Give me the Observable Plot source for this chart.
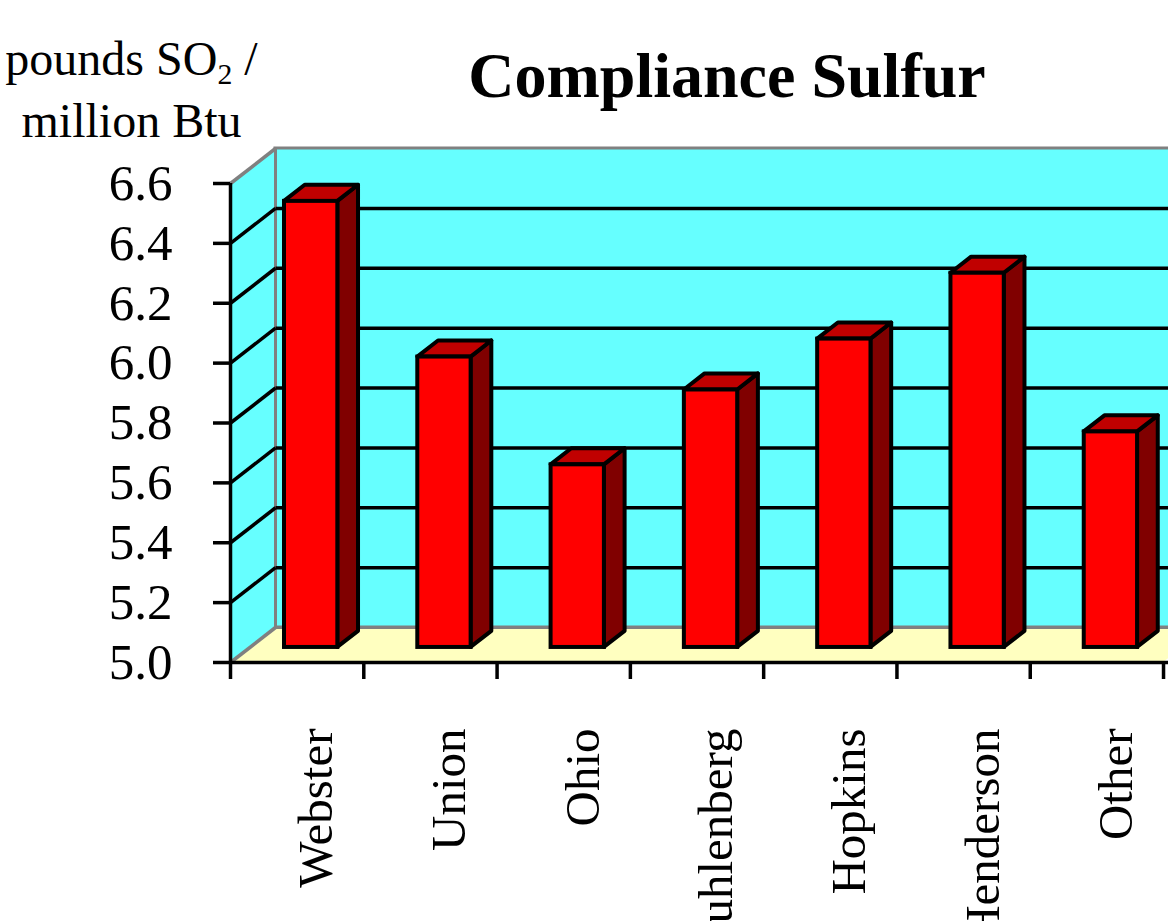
<!DOCTYPE html>
<html>
<head>
<meta charset="utf-8">
<script src="https://cdn.jsdelivr.net/npm/d3@7"></script>
<script src="https://cdn.jsdelivr.net/npm/@observablehq/plot@0.6"></script>
<style>
  html, body { margin: 0; padding: 0; background: #fff; overflow: hidden; width: 1168px; height: 921px; }
  #header { position: relative; width: 1168px; height: 140px; font-family: "Liberation Serif", "Times New Roman", serif; color: #000; }
  #ylabel { position: absolute; left: 0; top: 31px; width: 263px; text-align: center; font-size: 48px; line-height: 56px; white-space: nowrap; }
  #ylabel .sub { font-size: 0.62em; position: relative; top: 0.3em; }
  #title { position: absolute; left: 727px; top: 44px; transform: translateX(-50%); font-size: 64px; font-weight: bold; line-height: 1; white-space: nowrap; }
  #chart svg { display: block; overflow: visible; }
</style>
</head>
<body>
<div id="header">
  <div id="ylabel">pounds SO<span class="sub">2</span> /<br>million Btu</div>
  <div id="title"></div>
</div>
<div id="chart"></div>
<script>
// ---- data ----
const categories = ["Webster", "Union", "Ohio", "Muhlenberg", "Hopkins", "Henderson", "Other"];
const values = [6.49, 5.97, 5.61, 5.86, 6.03, 6.25, 5.72];
const yTicks = [5.0, 5.2, 5.4, 5.6, 5.8, 6.0, 6.2, 6.4, 6.6];
const titleText = "Compliance Sulfur";

document.getElementById("title").textContent = titleText;

// ---- 3D geometry (in data units) ----
const N = categories.length;
const Y0 = yTicks[0], YMAX = yTicks[yTicks.length - 1];
const DX = 0.3376, DY = 0.1169;     // full depth of the box
const F1 = 0.43, F2 = 0.89;         // front / back depth of the bars
const BL = 0.26, BR = 0.66;         // bar left / right within a category slot

const CYAN = "#66FFFF", FLOOR = "#FFFFC0", GRAY = "#808080";
const RED = "#FF0000", TOP = "#C00000", SIDE = "#800000";
const FONT = "Liberation Serif, Times New Roman, serif";

const bars = categories.map((c, i) => ({c, i, v: values[i]}));
const sideData = bars.flatMap(b => [F1, F2].map(f => ({c: b.c, x: b.i + BR + f * DX, y1: Y0 + f * DY, y2: b.v + f * DY})));
const topData = bars.flatMap(b => [F1, F2].map(f => ({c: b.c, y: b.v + f * DY, x1: b.i + BL + f * DX, x2: b.i + BR + f * DX})));
const sideWall = [{x: 0, y1: Y0, y2: YMAX}, {x: DX, y1: Y0 + DY, y2: YMAX + DY}];
const floor = [{y: Y0, x1: 0, x2: N}, {y: Y0 + DY, x1: DX, x2: N + DX}];
const inner = yTicks.slice(1, -1);

const chart = Plot.plot({
  width: 1168,
  height: 781,
  marginLeft: 230,
  marginRight: 0,
  marginTop: 43,
  marginBottom: 259,
  style: {fontFamily: FONT, background: "white", overflow: "visible"},
  x: {type: "linear", domain: [0, 938 / 133.29]},
  y: {type: "linear", domain: [Y0, YMAX]},
  marks: [
    // walls & floor
    Plot.rect([0], {x1: DX, x2: N + DX, y1: Y0 + DY, y2: YMAX + DY, fill: CYAN, stroke: GRAY, strokeWidth: 3}),
    Plot.areaY(sideWall, {x: "x", y1: "y1", y2: "y2", fill: CYAN}),
    Plot.areaX(floor, {y: "y", x1: "x1", x2: "x2", fill: FLOOR}),
    Plot.link([Y0, YMAX], {x1: 0, y1: d => d, x2: DX, y2: d => d + DY, stroke: GRAY, strokeWidth: 3.5}),
    Plot.ruleX([DX], {y1: Y0 + DY, y2: YMAX + DY, stroke: GRAY, strokeWidth: 3}),
    Plot.ruleY([Y0 + DY], {x1: DX, x2: N + DX, stroke: GRAY, strokeWidth: 3}),
    // gridlines
    Plot.link(inner, {x1: 0, y1: d => d, x2: DX, y2: d => d + DY, stroke: "black", strokeWidth: 3.5}),
    Plot.link(inner, {x1: DX, y1: d => d + DY, x2: N + DX, y2: d => d + DY, stroke: "black", strokeWidth: 3.5}),
    // axes
    Plot.ruleX([0], {y1: Y0, y2: YMAX, stroke: "black", strokeWidth: 3.5}),
    Plot.ruleY([Y0], {stroke: "black", strokeWidth: 3.5}),
    Plot.axisY({ticks: yTicks, tickFormat: d => d.toFixed(1), tickSize: 17, tickPadding: 41, strokeWidth: 3.5, fontSize: 51, label: null}),
    Plot.axisX({ticks: d3.range(N + 1), tickFormat: () => "", tickSize: 17, strokeWidth: 3.5, label: null}),
    Plot.text(categories, {x: (d, i) => i + 0.5 + F1 * DX, y: Y0, text: d => d, rotate: -90, textAnchor: "end", dy: 66, fontSize: 49, fill: "black"}),
    // bars
    Plot.areaY(sideData, {x: "x", y1: "y1", y2: "y2", z: "c", fill: SIDE, stroke: "black", strokeWidth: 4}),
    Plot.areaX(topData, {y: "y", x1: "x1", x2: "x2", z: "c", fill: TOP, stroke: "black", strokeWidth: 4}),
    Plot.rect(bars, {x1: b => b.i + BL + F1 * DX, x2: b => b.i + BR + F1 * DX, y1: Y0 + F1 * DY, y2: b => b.v + F1 * DY, fill: RED, stroke: "black", strokeWidth: 4})
  ]
});
document.getElementById("chart").appendChild(chart);
</script>
</body>
</html>
